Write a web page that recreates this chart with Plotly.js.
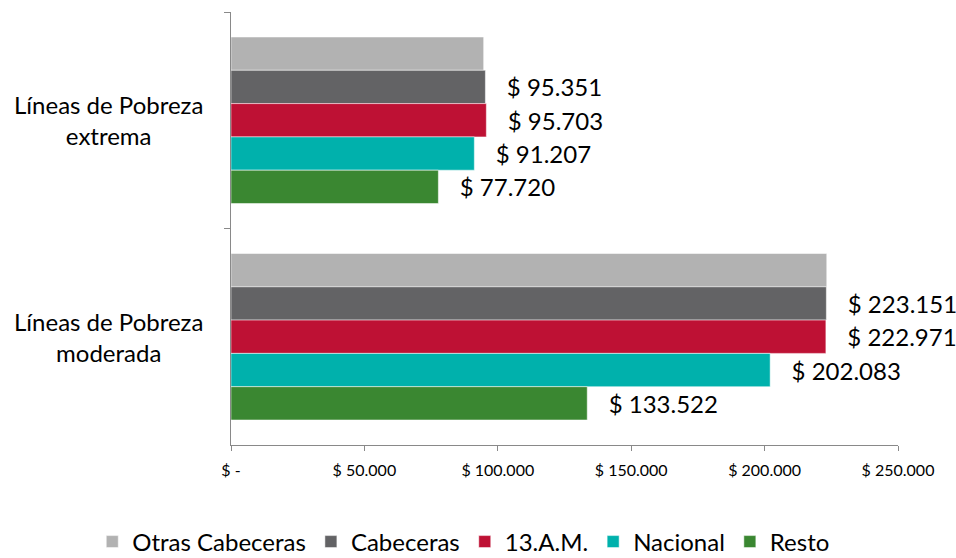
<!DOCTYPE html>
<html>
<head>
<meta charset="utf-8">
<script src="https://cdn.plot.ly/plotly-3.0.1.min.js"></script>
<style>
html,body{margin:0;padding:0;background:#fff;}
#chart{width:956px;height:558px;}
</style>
</head>
<body>
<div id="chart"></div>
<script>
var categories = ["Líneas de Pobreza extrema", "Líneas de Pobreza moderada"];
var categoryLabels = ["Líneas de Pobreza<br>extrema", "Líneas de Pobreza<br>moderada"];
var seriesNames = ["Otras Cabeceras", "Cabeceras", "13.A.M.", "Nacional", "Resto"];
var otrasCabeceras = [94700, 223300];
var cabeceras = [95351, 223151];
var am13 = [95703, 222971];
var nacional = [91207, 202083];
var resto = [77720, 133522];
var showLabel = [false, true, true, true, true];
var colors = ["#b2b2b2", "#636365", "#be1134", "#00b1ac", "#3a8731"];
var tickValues = [0, 50000, 100000, 150000, 200000, 250000];
var tickLabels = ["$ -", "$ 50.000", "$ 100.000", "$ 150.000", "$ 200.000", "$ 250.000"];

var seriesValues = [otrasCabeceras, cabeceras, am13, nacional, resto];
var FONT = "Lato, 'Open Sans', sans-serif";
var NB = "\u00a0\u00a0\u00a0";

var traces = seriesValues.map(function (vals, i) {
  return {
    type: "bar",
    orientation: "h",
    name: seriesNames[i],
    y: categories,
    x: vals,
    marker: {color: colors[i], line: {color: "rgba(255,255,255,0.5)", width: 1}},
    texttemplate: showLabel[i] ? NB + "$ %{x:,.0f}" : "",
    textposition: showLabel[i] ? "outside" : "none",
    constraintext: "none",
    cliponaxis: false,
    textfont: {family: FONT, size: 24, color: "#000"},
    hoverinfo: "x+name"
  };
});

var annotations = categories.map(function (c, i) {
  return {
    xref: "paper", yref: "y",
    x: -0.184, y: c,
    xanchor: "center", yanchor: "middle",
    text: categoryLabels[i],
    align: "center",
    showarrow: false,
    font: {family: FONT, size: 24, color: "#000"}
  };
});

var layout = {
  width: 956, height: 558,
  margin: {l: 231, r: 58, t: 12, b: 113, autoexpand: false},
  paper_bgcolor: "#fff", plot_bgcolor: "#fff",
  barmode: "group",
  bargap: 0.231,
  bargroupgap: 0,
  separators: ",.",
  font: {family: FONT, color: "#000"},
  showlegend: true,
  legend: {
    orientation: "h",
    xref: "paper", yref: "paper",
    x: -0.208, xanchor: "left",
    y: -0.224, yanchor: "middle",
    font: {family: FONT, size: 24, color: "#000"},
    traceorder: "normal"
  },
  xaxis: {
    range: [0, 250000],
    tickvals: tickValues,
    ticktext: tickLabels,
    ticks: "outside", ticklen: 5, tickcolor: "#898989",
    showline: true, linecolor: "#898989", linewidth: 1,
    showgrid: false, zeroline: false,
    tickfont: {family: FONT, size: 16, color: "#000"},
    ticklabelstandoff: 6,
    fixedrange: true
  },
  yaxis: {
    type: "category",
    autorange: "reversed",
    tickson: "boundaries",
    ticks: "outside", ticklen: 6, tickcolor: "#898989",
    showline: true, linecolor: "#898989", linewidth: 1,
    showgrid: false, zeroline: false,
    showticklabels: false,
    fixedrange: true
  },
  annotations: annotations
};

Plotly.newPlot("chart", traces, layout, {displayModeBar: false, staticPlot: true});
</script>
</body>
</html>
